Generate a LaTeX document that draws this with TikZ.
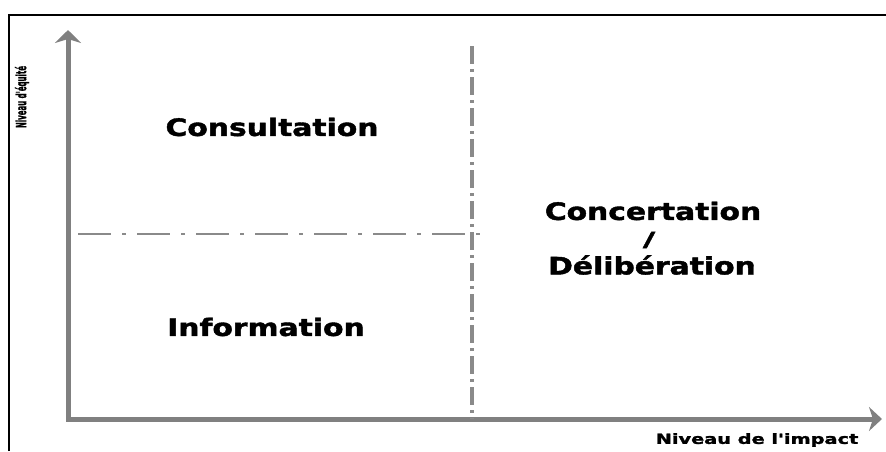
\documentclass[tikz,border=0pt]{standalone}
\usepackage{fontspec}
\setmainfont{DejaVu Sans}[Ligatures=TeXOff]
\newfontfamily\heavyfont{DejaVu Sans Bold}[Ligatures=TeXOff,FakeBold=1.6]
\usetikzlibrary{arrows.meta}
\definecolor{axisgray}{HTML}{808080}
\definecolor{dashgray}{HTML}{8A8A8A}
\begin{document}
\begin{tikzpicture}[x=1pt,y=-1pt,
  axisline/.style={draw=axisgray,line width=5pt,
    arrows={Stealth[length=13pt,width=26pt,inset=4pt]-Stealth[length=13pt,width=24pt,inset=4pt]}},
  vdash/.style={draw=dashgray,line width=4pt,dash pattern=on 18pt off 5pt on 3pt off 5pt},
  hdash/.style={draw=dashgray,line width=2.5pt,dash pattern=on 33pt off 11pt on 4pt off 11pt},
  bigtext/.style={font=\heavyfont\fontsize{24}{26}\selectfont,xscale=1.24,inner sep=0pt,anchor=center},
  slashtext/.style={font=\heavyfont\fontsize{20}{20}\selectfont,xscale=1.7,inner sep=0pt,anchor=center},
  smalltext/.style={font=\heavyfont\fontsize{14}{15}\selectfont,xscale=1.38,inner sep=0pt,anchor=center},
  ytext/.style={font=\heavyfont\fontsize{14}{14}\selectfont,inner sep=0pt,anchor=center}
]
\useasboundingbox (0,0) rectangle (886,451);
\fill[white] (0,0) rectangle (886,451);
% frame
\draw[black,line width=2.5pt] (9,451) -- (9,15) -- (886,15);
% axes
\coordinate (ytop) at (68,30);
\coordinate (orig) at (68,419);
\coordinate (xend) at (882,419);
\draw[axisline] (ytop) -- (orig) -- (xend);
% dividing lines
\coordinate (vtop) at (472,46);
\coordinate (vbot) at (472,419);
\coordinate (hl) at (78,234);
\coordinate (hr) at (480,234);
\draw[vdash] (vtop) -- (vbot);
\draw[hdash] (hl) -- (hr);
% labels
\node[bigtext] (cons) at (272,127) {Consultation};
\node[bigtext] (info) at (266,327) {Information};
\node[bigtext] (conc) at (653,211) {Concertation};
\node[slashtext] (slash) at (649,240) {/};
\node[bigtext] (deli) at (652,265) {Délibération};
\node[smalltext] (xlab) at (757,440) {Niveau de l'impact};
\node[ytext,rotate=90] (ylab) at (22,97) {\scalebox{0.5}[1]{Niveau d'équité}};
\end{tikzpicture}
\end{document}
